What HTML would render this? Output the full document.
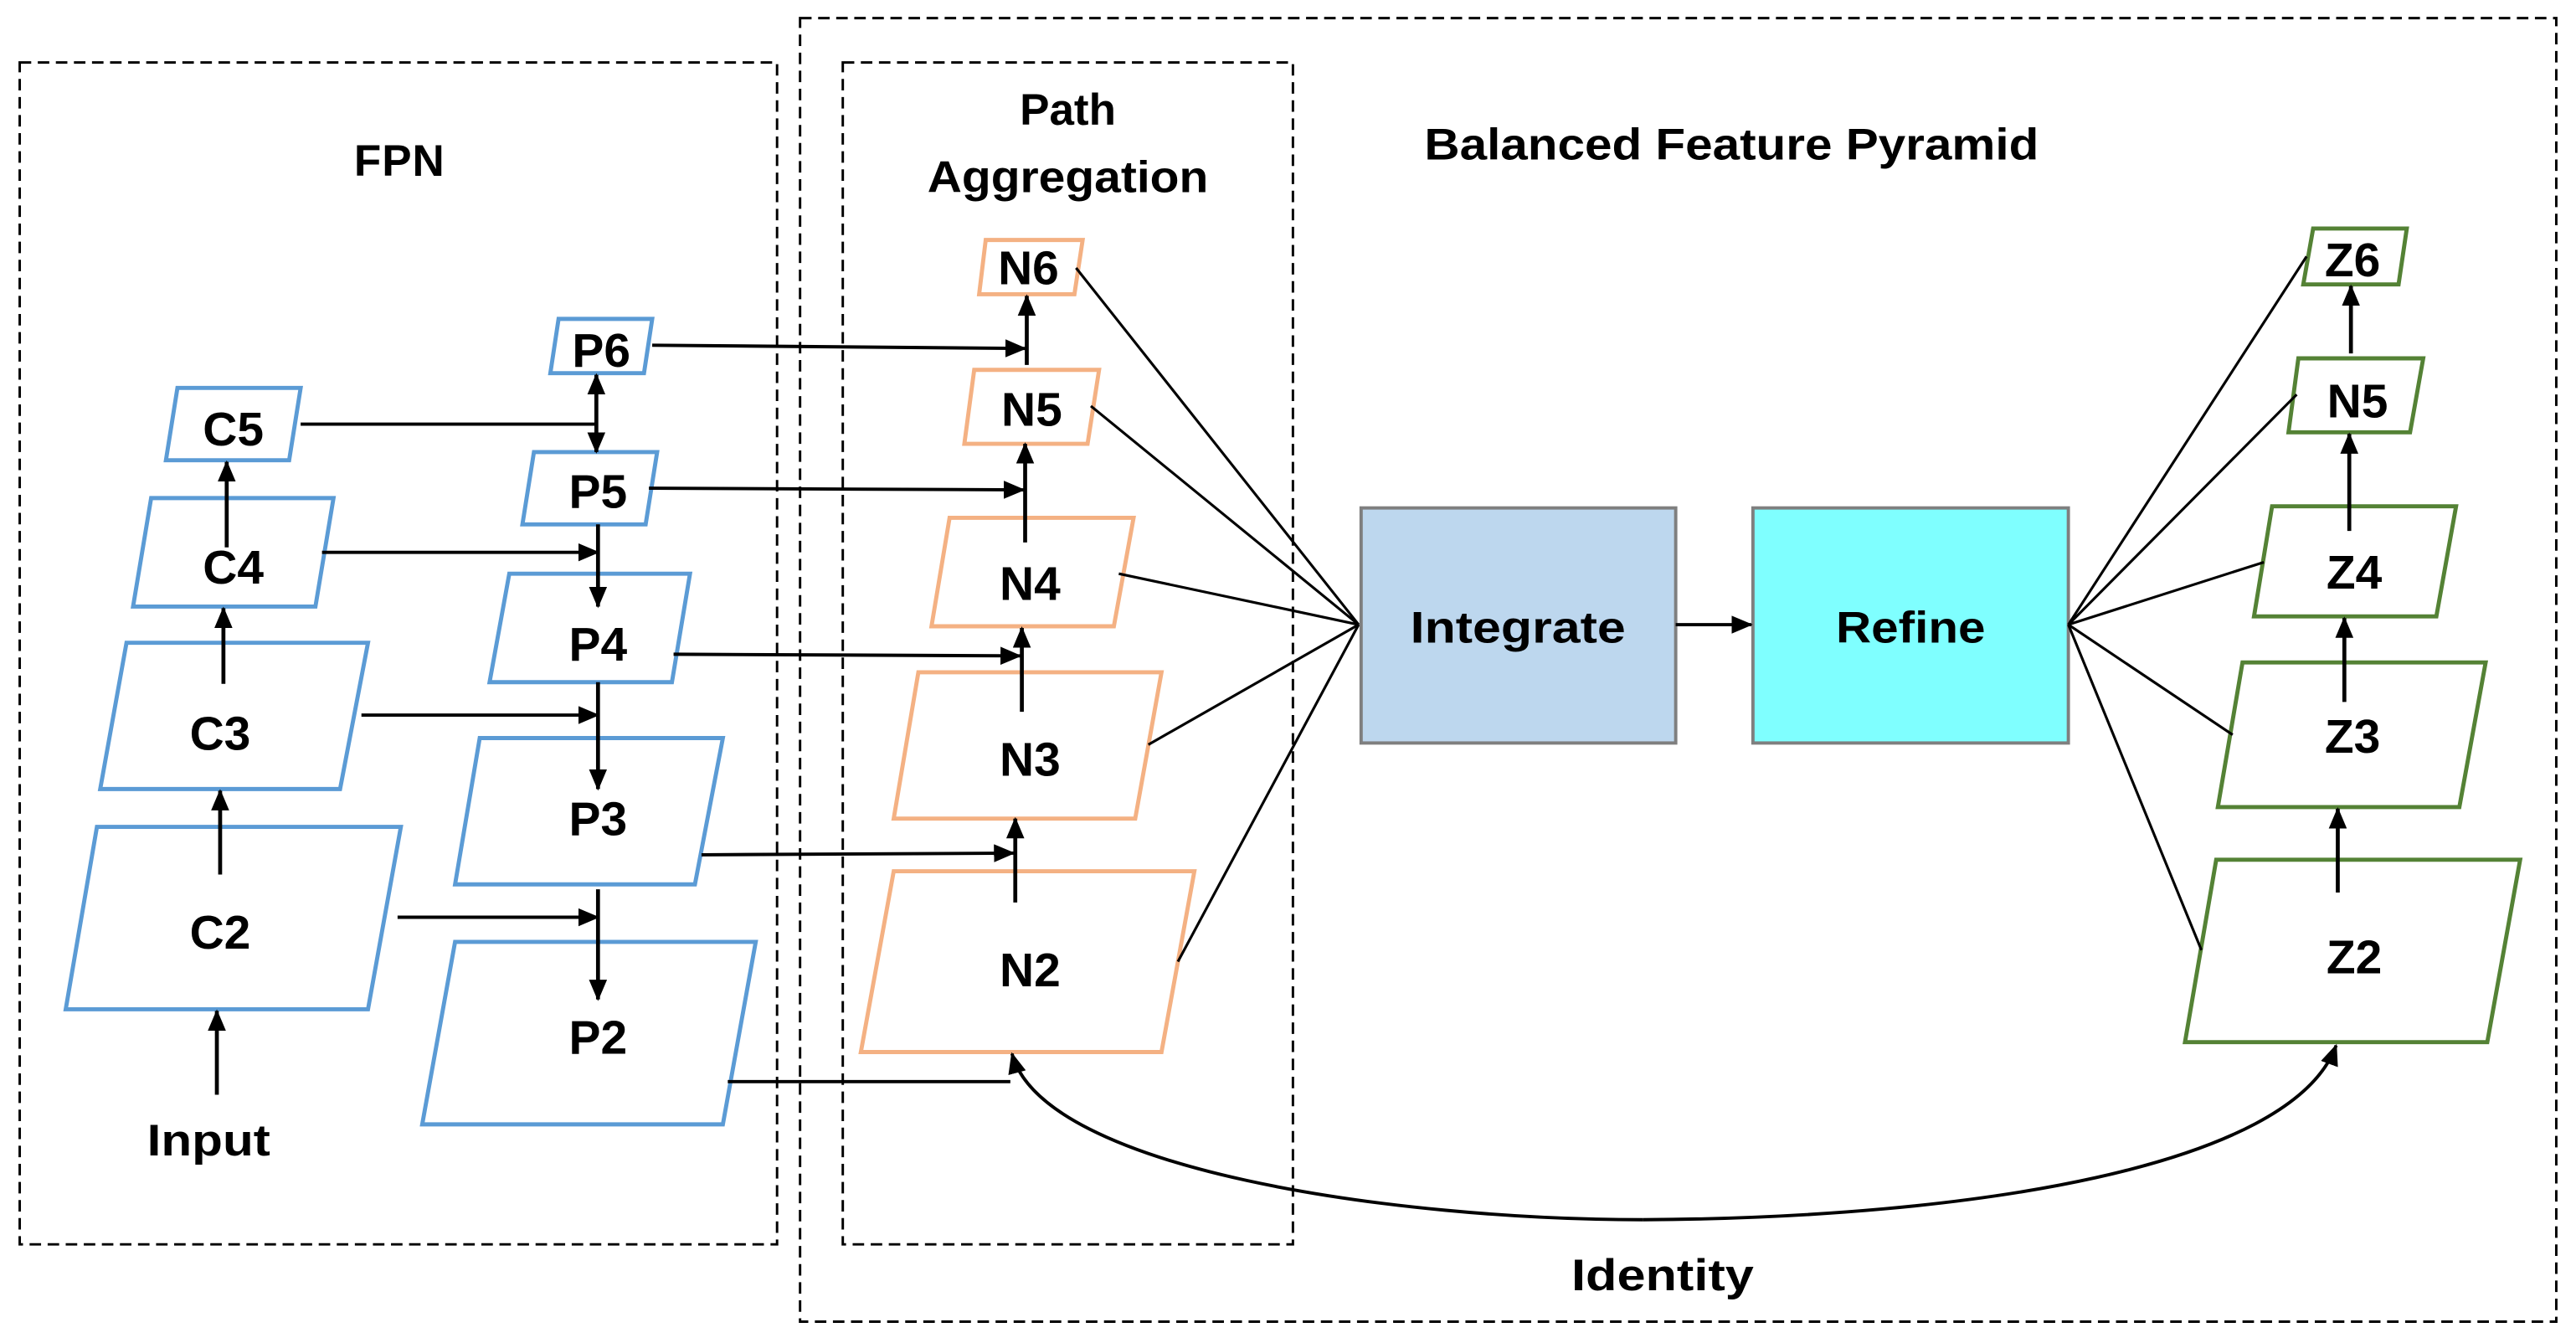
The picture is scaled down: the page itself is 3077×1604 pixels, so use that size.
<!DOCTYPE html>
<html><head><meta charset="utf-8"><style>
html,body{margin:0;padding:0;background:#fff;}
svg{display:block;}
text{font-family:"Liberation Sans",sans-serif;font-weight:bold;fill:#000;}
</style></head><body>
<svg width="3077" height="1604" viewBox="0 0 1568 817" preserveAspectRatio="none" xmlns="http://www.w3.org/2000/svg">
<defs>
<marker id="a" markerUnits="userSpaceOnUse" markerWidth="13" markerHeight="11" refX="12" refY="5.5" orient="auto-start-reverse"><path d="M0,0 L13,5.5 L0,11 z" fill="#000"/></marker>
</defs>
<g fill="none" stroke="#000" stroke-width="1.5" stroke-dasharray="7,4">
<rect x="12" y="38" width="461" height="719"/>
<rect x="487" y="11" width="1069" height="793"/>
<rect x="513" y="38" width="274" height="719"/>
</g>
<g font-size="27" text-anchor="middle">
<text x="243" y="107" textLength="55">FPN</text>
<text x="650" y="76">Path</text>
<text x="650" y="117" textLength="171" lengthAdjust="spacingAndGlyphs">Aggregation</text>
<text x="1054" y="97" textLength="374" lengthAdjust="spacingAndGlyphs">Balanced Feature Pyramid</text>
<text x="1012" y="785" textLength="111" lengthAdjust="spacingAndGlyphs">Identity</text>
<text x="127" y="703" textLength="75" lengthAdjust="spacingAndGlyphs">Input</text>
</g>
<g fill="#fff" stroke="#5b9bd5" stroke-width="2.5">
<polygon points="108,236 183,236 176,280 101,280"/>
<polygon points="92,303 203,303 192,369 81,369"/>
<polygon points="77,391 224,391 207,480 61,480"/>
<polygon points="59,503 244,503 224,614 40,614"/>
<polygon points="340,194 397,194 392,227 335,227"/>
<polygon points="325,275 400,275 393,319 318,319"/>
<polygon points="310,349 420,349 409,415 298,415"/>
<polygon points="292,449 440,449 423,538 277,538"/>
<polygon points="277,573 460,573 440,684 257,684"/>
</g>
<g fill="#fff" stroke="#f4b183" stroke-width="2.5">
<polygon points="600,146 659,146 654,179 596,179"/>
<polygon points="593,225 669,225 662,270 587,270"/>
<polygon points="578,315 690,315 678,381 567,381"/>
<polygon points="559,409 707,409 691,498 544,498"/>
<polygon points="544,530 727,530 707,640 524,640"/>
</g>
<g fill="#fff" stroke="#548235" stroke-width="2.5">
<polygon points="1408,139 1465,139 1460,173 1402,173"/>
<polygon points="1399,218 1475,218 1467,263 1393,263"/>
<polygon points="1383,308 1495,308 1483,375 1372,375"/>
<polygon points="1365,403 1513,403 1497,491 1350,491"/>
<polygon points="1349,523 1534,523 1514,634 1330,634"/>
</g>
<rect x="828.5" y="309" width="191.5" height="143" fill="#bdd7ee" stroke="#7f7f7f" stroke-width="2"/>
<rect x="1067" y="309" width="192" height="143" fill="#7fffff" stroke="#7f7f7f" stroke-width="2"/>
<g font-size="29" text-anchor="middle">
<text x="142" y="271">C5</text><text x="142" y="355">C4</text><text x="134" y="456">C3</text><text x="134" y="577">C2</text>
<text x="366" y="223">P6</text><text x="364" y="309">P5</text><text x="364" y="402">P4</text><text x="364" y="508">P3</text><text x="364" y="641">P2</text>
<text x="626" y="173">N6</text><text x="628" y="259">N5</text><text x="627" y="365">N4</text><text x="627" y="472">N3</text><text x="627" y="600">N2</text>
<text x="1432" y="168">Z6</text><text x="1435" y="254">N5</text><text x="1433" y="358">Z4</text><text x="1432" y="458">Z3</text><text x="1433" y="592">Z2</text>
</g>
<g font-size="27" text-anchor="middle">
<text x="924" y="391" textLength="131" lengthAdjust="spacingAndGlyphs">Integrate</text>
<text x="1163" y="391" textLength="91" lengthAdjust="spacingAndGlyphs">Refine</text>
</g>
<g stroke="#000" stroke-width="2.4" fill="none" marker-end="url(#a)">
<line x1="132" y1="666" x2="132" y2="615"/>
<line x1="134" y1="532" x2="134" y2="481"/>
<line x1="136" y1="416" x2="136" y2="370"/>
<line x1="138" y1="333" x2="138" y2="281"/>
<line x1="363" y1="228" x2="363" y2="275" marker-start="url(#a)"/>
<line x1="364" y1="319" x2="364" y2="369"/>
<line x1="364" y1="415" x2="364" y2="480"/>
<line x1="364" y1="541" x2="364" y2="608"/>
<line x1="625" y1="222" x2="625" y2="180"/>
<line x1="624" y1="330" x2="624" y2="270"/>
<line x1="622" y1="433" x2="622" y2="382"/>
<line x1="618" y1="549" x2="618" y2="498"/>
<line x1="1423" y1="543" x2="1423" y2="492"/>
<line x1="1427" y1="427" x2="1427" y2="376"/>
<line x1="1430" y1="323" x2="1430" y2="264"/>
<line x1="1431" y1="215" x2="1431" y2="174"/>
</g>
<g stroke="#000" stroke-width="2" fill="none" marker-end="url(#a)">
<polyline points="183,258 363,258" marker-end="none"/>
<line x1="196" y1="336" x2="364" y2="336"/>
<line x1="220" y1="435" x2="364" y2="435"/>
<line x1="242" y1="558" x2="364" y2="558"/>
<line x1="397" y1="210" x2="624" y2="212"/>
<line x1="395" y1="297" x2="623" y2="298"/>
<line x1="410" y1="398" x2="621" y2="399"/>
<line x1="427" y1="520" x2="617" y2="519"/>
<polyline points="443,658 615,658" marker-end="none"/>
<line x1="1020" y1="380" x2="1066" y2="380"/>
<path d="M1000,742 C1200,741 1395,710 1422,636"/>
<path d="M1000,742 C850,742 635,712 616,641"/>
</g>
<g stroke="#000" stroke-width="1.6" fill="none">
<line x1="655" y1="163" x2="827" y2="380"/>
<line x1="664" y1="247" x2="827" y2="380"/>
<line x1="681" y1="349" x2="827" y2="380"/>
<line x1="699" y1="453" x2="827" y2="380"/>
<line x1="717" y1="585" x2="827" y2="380"/>
<line x1="1259" y1="380" x2="1404" y2="156"/>
<line x1="1259" y1="380" x2="1398" y2="240"/>
<line x1="1259" y1="380" x2="1378" y2="342"/>
<line x1="1259" y1="380" x2="1359" y2="447"/>
<line x1="1259" y1="380" x2="1340" y2="578"/>
</g>
</svg>
</body></html>
